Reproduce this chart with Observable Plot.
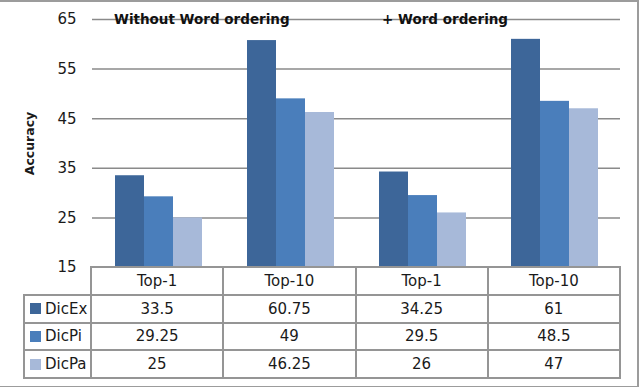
<!DOCTYPE html>
<html>
<head>
<meta charset="utf-8">
<script src="https://cdn.jsdelivr.net/npm/d3@7"></script>
<script src="https://cdn.jsdelivr.net/npm/@observablehq/plot@0.6"></script>
<style>
  html, body { margin: 0; padding: 0; background: #fff; }
  #wrap { position: relative; width: 640px; height: 387px; overflow: hidden; font-family: "DejaVu Sans", Verdana, sans-serif; }
  #wrap svg { position: absolute; left: 0; top: 0; }
  g[aria-label="y-axis label"] text { font-weight: bold !important; font-size: 12.5px !important; }
  .cell { position: absolute; display: flex; align-items: center; justify-content: center; font-size: 15px; color: #1a1a1a; white-space: nowrap; }
  .line { position: absolute; background: #959595; }
  .sw { display: inline-block; width: 11px; height: 11px; margin-right: 4px; }
  #border { position: absolute; left: -3px; top: 0; width: 638px; height: 384px; border: 2px solid #9c9c9c; }
</style>
</head>
<body>
<div id="wrap"></div>
<script>
// ---- data ----
const settings = ["Without Word ordering", "+ Word ordering"];
const columns = ["Top-1", "Top-10", "Top-1", "Top-10"];
const series = ["DicEx", "DicPi", "DicPa"];
const dicEx = [33.5, 60.75, 34.25, 61];
const dicPi = [29.25, 49, 29.5, 48.5];
const dicPa = [25, 46.25, 26, 47];
const yTicks = [15, 25, 35, 45, 55, 65];
const colors = ["#3D6699", "#4A7EBB", "#A7B9D9"];

const seriesValues = [dicEx, dicPi, dicPa];
const data = [];
columns.forEach((c, i) => series.forEach((s, j) => data.push({col: i, series: s, value: seriesValues[j][i]})));

const W = 640, H = 387, mL = 91, mR = 20, mT = 19, mB = 120;
const yMin = yTicks[0], yMax = yTicks[yTicks.length - 1];

const annotations = [{col: 0, text: settings[0]}, {col: 2, text: settings[1]}];

const chart = Plot.plot({
  width: W, height: H,
  marginLeft: mL, marginRight: mR, marginTop: mT, marginBottom: mB,
  style: {fontFamily: "DejaVu Sans, Verdana, sans-serif", background: "transparent", overflow: "visible"},
  fx: {domain: d3.range(columns.length), padding: 0, axis: null},
  x: {domain: series, paddingInner: 0, paddingOuter: 0.75, axis: null},
  y: {domain: [yMin, yMax], axis: null},
  color: {domain: series, range: colors},
  marks: [
    Plot.gridY(yTicks.slice(1), {stroke: "#8a8a8a", strokeOpacity: 1, strokeWidth: 1.5}),
    Plot.barY(data, {fx: "col", x: "series", y1: () => yMin, y2: "value", fill: "series"}),
    Plot.axisY({ticks: yTicks, tickSize: 0, tickPadding: 16, fontSize: 15, fill: "#1a1a1a",
      line: true, stroke: "#8a8a8a", strokeWidth: 1.5,
      label: "Accuracy", labelAnchor: "center", labelArrow: "none", labelOffset: 67}),
    Plot.text(annotations.slice(0, 1), {fx: "col", x: () => series[0], y: () => yMax, text: "text",
      textAnchor: "start", lineAnchor: "middle", dx: -16, fontSize: 13.5, fontWeight: "bold", fill: "#111"}),
    Plot.text(annotations.slice(1), {fx: "col", x: () => series[0], y: () => yMax, text: "text",
      textAnchor: "start", lineAnchor: "middle", dx: -12, fontSize: 13.5, fontWeight: "bold", fill: "#111"})
  ]
});

const wrap = document.getElementById("wrap");
wrap.appendChild(chart);

// ---- data table under the plot ----
const plotBottom = H - mB;
const colW = (W - mL - mR) / columns.length;
const legendLeft = 24;
const rowH = 27.75;
const colEdges = d3.range(columns.length + 1).map(i => mL + i * colW);
const rowEdges = d3.range(series.length + 2).map(i => plotBottom + i * rowH);
const lw = 2;

function addLine(x, y, w, h) {
  const d = document.createElement("div");
  d.className = "line";
  d.style.left = x + "px"; d.style.top = y + "px";
  d.style.width = w + "px"; d.style.height = h + "px";
  wrap.appendChild(d);
}
function addCell(x, y, w, h, html, justify) {
  const d = document.createElement("div");
  d.className = "cell";
  d.style.left = x + "px"; d.style.top = y + "px";
  d.style.width = w + "px"; d.style.height = h + "px";
  if (justify) d.style.justifyContent = justify;
  d.innerHTML = html;
  wrap.appendChild(d);
}

// horizontal lines
rowEdges.forEach((y, i) => {
  const x0 = i === 0 ? mL : legendLeft;
  addLine(x0 - lw / 2, y - lw / 2, colEdges[colEdges.length - 1] - x0 + lw, lw);
});
// vertical lines
addLine(legendLeft - lw / 2, rowEdges[1] - lw / 2, lw, rowEdges[rowEdges.length - 1] - rowEdges[1] + lw);
colEdges.forEach(x => addLine(x - lw / 2, rowEdges[0] - lw / 2, lw, rowEdges[rowEdges.length - 1] - rowEdges[0] + lw));

// header
columns.forEach((c, i) => addCell(colEdges[i], rowEdges[0], colW, rowH, c));
// rows
series.forEach((s, j) => {
  const y = rowEdges[j + 1];
  addCell(legendLeft + 6, y, mL - legendLeft - 6, rowH,
    `<span class="sw" style="background:${colors[j]}"></span>${s}`, "flex-start");
  seriesValues[j].forEach((v, i) => addCell(colEdges[i], y, colW, rowH, String(v)));
});

const b = document.createElement("div");
b.id = "border";
wrap.appendChild(b);
</script>
</body>
</html>
